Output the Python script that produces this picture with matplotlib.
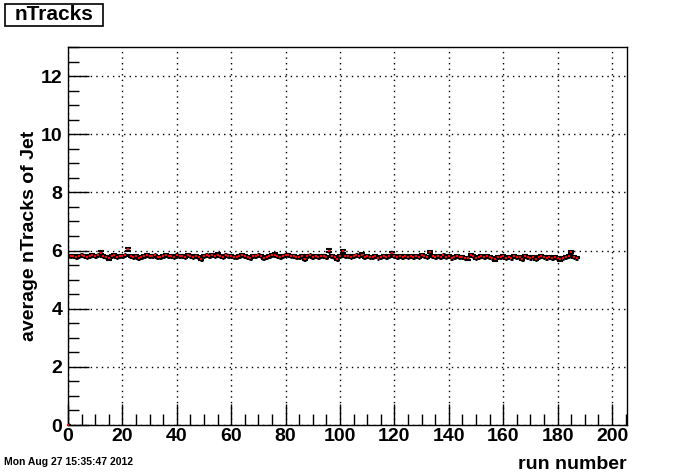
import numpy as np
import matplotlib.pyplot as plt
from matplotlib import ticker
from matplotlib.patches import Rectangle

# average nTracks per run
run_number = list(range(0, 188))
avg_ntracks = [
    0.0,
    5.80, 5.82, 5.79, 5.81, 5.83, 5.80, 5.78, 5.82, 5.84, 5.81,
    5.83, 5.92, 5.80, 5.78, 5.74, 5.81, 5.84, 5.79, 5.82, 5.80,
    5.83, 6.04, 5.81, 5.79, 5.82, 5.76, 5.78, 5.80, 5.84, 5.82,
    5.81, 5.83, 5.79, 5.78, 5.82, 5.85, 5.80, 5.81, 5.79, 5.83,
    5.80, 5.82, 5.78, 5.84, 5.81, 5.79, 5.80, 5.77, 5.72, 5.81,
    5.83, 5.80, 5.84, 5.82, 5.86, 5.81, 5.79, 5.83, 5.80, 5.82,
    5.78, 5.77, 5.81, 5.84, 5.80, 5.79, 5.75, 5.82, 5.80, 5.83,
    5.81, 5.74, 5.79, 5.82, 5.84, 5.86, 5.80, 5.78, 5.82, 5.83,
    5.85, 5.80, 5.81, 5.78, 5.79, 5.82, 5.72, 5.80, 5.83, 5.79,
    5.81, 5.78, 5.80, 5.82, 5.79, 6.00, 5.80, 5.78, 5.72, 5.81,
    5.98, 5.80, 5.82, 5.79, 5.81, 5.83, 5.80, 5.86, 5.78, 5.80,
    5.77, 5.79, 5.81, 5.76, 5.78, 5.80, 5.79, 5.82, 5.91, 5.80,
    5.78, 5.81, 5.79, 5.82, 5.77, 5.80, 5.78, 5.81, 5.79, 5.85,
    5.80, 5.78, 5.95, 5.82, 5.79, 5.81, 5.77, 5.83, 5.79, 5.80,
    5.76, 5.78, 5.80, 5.77, 5.79, 5.75, 5.73, 5.85, 5.80, 5.75,
    5.78, 5.80, 5.77, 5.82, 5.78, 5.76, 5.70, 5.79, 5.77, 5.80,
    5.75, 5.78, 5.76, 5.80, 5.79, 5.77, 5.72, 5.82, 5.78, 5.76,
    5.79, 5.72, 5.77, 5.80, 5.78, 5.76, 5.79, 5.74, 5.77, 5.75,
    5.70, 5.76, 5.78, 5.80, 5.95, 5.77, 5.76,
]
avg_err = [
    0.0,
    0.03, 0.03, 0.03, 0.03, 0.03, 0.03, 0.03, 0.03, 0.03, 0.03,
    0.03, 0.05, 0.03, 0.03, 0.06, 0.03, 0.03, 0.03, 0.03, 0.03,
    0.03, 0.06, 0.03, 0.03, 0.03, 0.04, 0.03, 0.03, 0.03, 0.03,
    0.03, 0.03, 0.03, 0.03, 0.03, 0.03, 0.03, 0.03, 0.03, 0.03,
    0.03, 0.03, 0.03, 0.03, 0.03, 0.03, 0.03, 0.04, 0.05, 0.03,
    0.03, 0.03, 0.03, 0.03, 0.04, 0.03, 0.03, 0.03, 0.03, 0.03,
    0.03, 0.04, 0.03, 0.03, 0.03, 0.03, 0.04, 0.03, 0.03, 0.03,
    0.03, 0.04, 0.03, 0.03, 0.03, 0.04, 0.03, 0.03, 0.03, 0.03,
    0.04, 0.03, 0.03, 0.03, 0.03, 0.03, 0.05, 0.03, 0.03, 0.03,
    0.03, 0.03, 0.03, 0.03, 0.03, 0.05, 0.03, 0.03, 0.05, 0.03,
    0.05, 0.03, 0.03, 0.03, 0.03, 0.03, 0.03, 0.04, 0.03, 0.03,
    0.03, 0.03, 0.03, 0.03, 0.03, 0.03, 0.03, 0.03, 0.05, 0.03,
    0.03, 0.03, 0.03, 0.03, 0.03, 0.03, 0.03, 0.03, 0.03, 0.04,
    0.03, 0.03, 0.05, 0.03, 0.03, 0.03, 0.03, 0.03, 0.03, 0.03,
    0.03, 0.03, 0.03, 0.03, 0.03, 0.04, 0.04, 0.04, 0.03, 0.04,
    0.03, 0.03, 0.03, 0.03, 0.03, 0.03, 0.05, 0.03, 0.03, 0.03,
    0.04, 0.03, 0.03, 0.03, 0.03, 0.03, 0.04, 0.03, 0.03, 0.03,
    0.03, 0.05, 0.03, 0.03, 0.03, 0.03, 0.03, 0.04, 0.03, 0.03,
    0.05, 0.03, 0.03, 0.03, 0.04, 0.03, 0.03,
]

plt.rcParams['font.family'] = ['Liberation Sans', 'DejaVu Sans']
plt.rcParams['font.weight'] = 'bold'

fig = plt.figure(figsize=(6.96, 4.72), dpi=100)
ax = fig.add_axes([68 / 696, 1 - 425 / 472, 559 / 696, 378 / 472])

# black error bars (thick horizontal bin-width bars) + small red markers
ax.errorbar(run_number, avg_ntracks, yerr=avg_err, fmt='none',
            ecolor='black', elinewidth=1.5, capsize=2.5, capthick=1.5, zorder=2)
ax.errorbar(run_number, avg_ntracks, xerr=0.5, fmt='none',
            ecolor='black', elinewidth=3.5, capsize=0, zorder=2)
ax.plot(run_number, avg_ntracks, 's', color='red', markersize=1.8,
        markeredgewidth=0, zorder=3, clip_on=False)

ax.set_xlim(0, 205.5)
ax.set_ylim(0, 13)

ax.xaxis.set_major_locator(ticker.MultipleLocator(20))
ax.xaxis.set_minor_locator(ticker.MultipleLocator(5))
ax.yaxis.set_major_locator(ticker.MultipleLocator(2))
ax.yaxis.set_minor_locator(ticker.MultipleLocator(0.5))
ax.tick_params(which='both', direction='in', top=False, right=False, width=1)
ax.tick_params(axis='x', which='major', length=15, labelsize=14, pad=2)
ax.tick_params(axis='y', which='major', length=15, labelsize=14, pad=4)
ax.tick_params(which='minor', length=8)
for lab in ax.get_xticklabels() + ax.get_yticklabels():
    lab.set_fontweight('bold')

ax.grid(True, which='major', linestyle=(0, (1, 3)), color='black', linewidth=1)
ax.set_axisbelow(True)
for sp in ax.spines.values():
    sp.set_linewidth(1)

ax.set_xlabel('run number', fontsize=14, fontweight='bold', loc='right', labelpad=8)
ax.set_ylabel('average nTracks of Jet', fontsize=14, fontweight='bold', labelpad=2)

# title box
fig.patches.append(Rectangle((5 / 696, 1 - 26 / 472), 98 / 696, 22 / 472,
                             transform=fig.transFigure, facecolor='white',
                             edgecolor='black', linewidth=1.2))
fig.text(54 / 696, 1 - 15 / 472, 'nTracks', fontsize=15, fontweight='bold',
         ha='center', va='center')
fig.text(4 / 696, 1 - 462 / 472, 'Mon Aug 27 15:35:47 2012', fontsize=7.5, fontweight='bold',
         va='center')

fig.savefig('out.png', dpi=100)
